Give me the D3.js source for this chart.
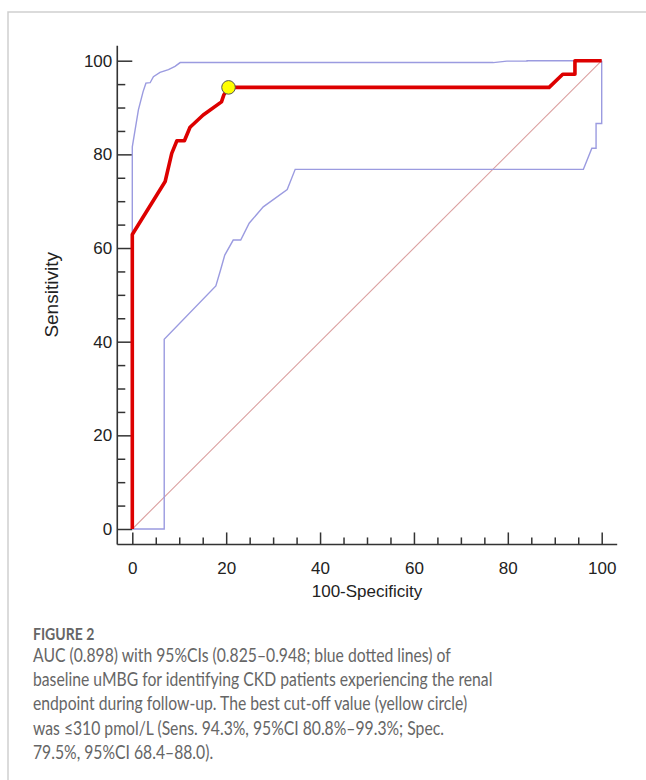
<!DOCTYPE html>
<html>
<head>
<meta charset="utf-8">
<script src="https://cdn.jsdelivr.net/npm/d3@7"></script>
<style>
  body { margin: 0; background: #fff; }
  svg { display: block; }
  .tick text { font-family: "Liberation Sans", Arial, sans-serif; font-size: 17px; fill: #222; }
  .caption { font-family: Lato, "Open Sans", sans-serif; fill: #666; }
</style>
</head>
<body>
<svg id="chart" width="646" height="780"></svg>
<script>
// ROC curve of baseline uMBG, points as [100-specificity, sensitivity]
var rocCurve = [[0,0],[0,62.9],[7.0,74.2],[8.4,80.2],[9.5,82.9],[11.1,82.9],[12.3,85.8],
  [15.1,88.4],[19.0,91.2],[19.5,92.7],[20.5,94.3],[88.8,94.3],[91.7,97.1],[94.3,97.1],
  [94.3,100],[100,100]];
// 95% CI bands
var upperCI = [[0,0],[0,81.6],[1.3,89.5],[2.3,93.4],[2.9,95.2],[3.8,95.3],[4.5,96.6],
  [5.9,97.5],[7.7,98.1],[9.1,98.8],[10.2,99.6],[76.9,99.6],[79.8,99.9],[84.1,99.9],
  [84.1,100],[100,100]];
var lowerCI = [[0,0],[6.8,0],[6.8,40.5],[17.8,51.9],[18.8,55.3],[19.7,58.5],[21.5,61.7],
  [23.1,61.7],[24.9,65.3],[27.9,68.8],[33.0,72.5],[34.7,76.8],[96.1,76.8],[97.9,81.3],
  [98.8,81.3],[98.8,86.6],[100,86.6],[100,100]];
var refLine = [[0,0],[100,100]];
var bestCutoff = [20.5, 94.3];

var majorTicks = [0, 20, 40, 60, 80, 100];
var minorTicks = [5,10,15,25,30,35,45,50,55,65,70,75,85,90,95];

var xLabel = "100-Specificity";
var yLabel = "Sensitivity";
var figTitle = "FIGURE 2";
var captionLines = [
  "AUC (0.898) with 95%CIs (0.825\u20130.948; blue dotted lines) of",
  "baseline uMBG for identifying CKD patients experiencing the renal",
  "endpoint during follow-up. The best cut-off value (yellow circle)",
  "was \u2264310 pmol/L (Sens. 94.3%, 95%CI 80.8%\u201399.3%; Spec.",
  "79.5%, 95%CI 68.4\u201388.0)."
];

var svg = d3.select("#chart");

// page frame
svg.append("path")
  .attr("d", "M8,780V12H646")
  .attr("fill", "none")
  .attr("stroke", "#cfcfcf")
  .attr("stroke-width", 1.5);

var x = d3.scaleLinear().domain([0, 100]).range([132.3, 601.7]);
var y = d3.scaleLinear().domain([0, 100]).range([529, 60.7]);

var axX = y(-3.3), axY = x(-3.2);

// axes
var gx = svg.append("g").attr("transform", "translate(0," + axX + ")");
gx.call(d3.axisBottom(x).tickValues(majorTicks).tickSize(-12).tickPadding(17));
gx.append("g").call(d3.axisBottom(x).tickValues(minorTicks).tickSize(-7).tickFormat(""));
gx.selectAll(".domain").remove();
gx.selectAll(".tick line").attr("stroke", "#333").attr("stroke-width", 1.5);
gx.append("line")
  .attr("x1", axY).attr("x2", x(103.3))
  .attr("stroke", "#333").attr("stroke-width", 1.6);

var gy = svg.append("g").attr("transform", "translate(" + axY + ",0)");
gy.call(d3.axisLeft(y).tickValues(majorTicks).tickSize(-15).tickPadding(5));
gy.append("g").call(d3.axisLeft(y).tickValues(minorTicks).tickSize(-8).tickFormat(""));
gy.selectAll(".domain").remove();
gy.selectAll(".tick line").attr("stroke", "#333").attr("stroke-width", 1.5);
gy.append("line")
  .attr("y1", y(103.2)).attr("y2", axX)
  .attr("stroke", "#333").attr("stroke-width", 1.6);

svg.append("text")
  .attr("x", x(50)).attr("y", 597)
  .attr("text-anchor", "middle")
  .style("font-family", "'Liberation Sans', Arial, sans-serif")
  .style("font-size", "17px").attr("fill", "#222")
  .text(xLabel);

svg.append("text")
  .attr("transform", "translate(58," + y(50) + ") rotate(-90)")
  .attr("text-anchor", "middle")
  .style("font-family", "'Liberation Sans', Arial, sans-serif")
  .style("font-size", "19px").attr("fill", "#222")
  .text(yLabel);

var line = d3.line()
  .x(function(d){ return x(d[0]); })
  .y(function(d){ return y(d[1]); });

svg.append("path").datum(refLine)
  .attr("d", line).attr("fill", "none")
  .attr("stroke", "#dba0a0").attr("stroke-width", 1.1);

[upperCI, lowerCI].forEach(function(ci){
  svg.append("path").datum(ci)
    .attr("d", line).attr("fill", "none")
    .attr("stroke", "#9b9be0").attr("stroke-width", 1.4);
});

svg.append("path").datum(rocCurve)
  .attr("d", line).attr("fill", "none")
  .attr("stroke", "#dd0000").attr("stroke-width", 3.6)
  .attr("stroke-linejoin", "round");

svg.append("circle")
  .attr("cx", x(bestCutoff[0])).attr("cy", y(bestCutoff[1]))
  .attr("r", 6.8)
  .attr("fill", "#ffff00").attr("stroke", "#555").attr("stroke-width", 1);

// caption, squeezed a bit to mimic the narrower journal font
var cap = svg.append("g").attr("transform", "translate(33,0) scale(0.85,1)");

cap.append("text").attr("class", "caption")
  .attr("x", 0).attr("y", 640)
  .style("font-size", "16.5px").style("font-weight", "bold")
  .attr("fill", "#555")
  .text(figTitle);

cap.selectAll(".capline").data(captionLines).enter()
  .append("text").attr("class", "caption capline")
  .attr("x", 0)
  .attr("y", function(d, i){ return 662 + i * 24.2; })
  .style("font-size", "18.5px")
  .text(function(d){ return d; });
</script>
</body>
</html>
